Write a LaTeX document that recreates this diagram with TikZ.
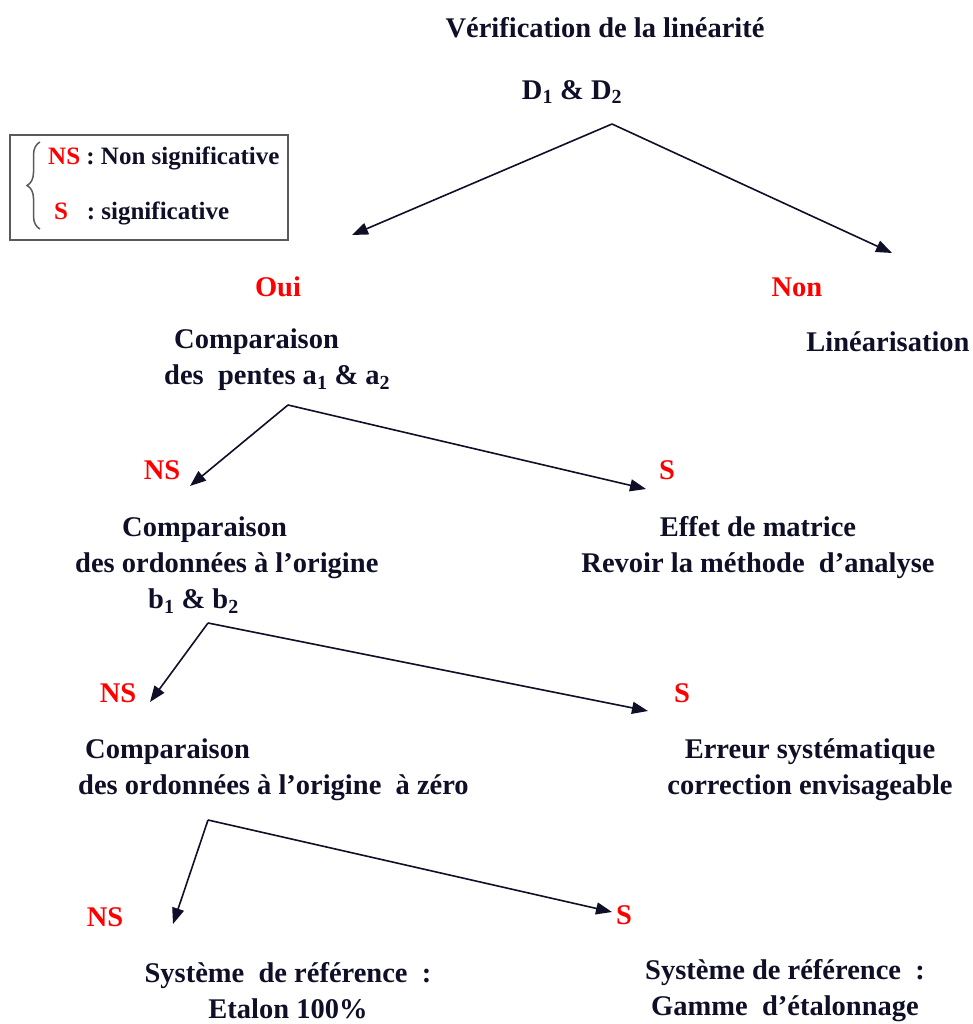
\documentclass[tikz,border=0pt]{standalone}
\usepackage{fontspec}
\setmainfont{Liberation Serif}
\usetikzlibrary{arrows.meta,decorations.pathreplacing}
\definecolor{ink}{RGB}{15,15,40}
\definecolor{hot}{RGB}{255,0,0}
\definecolor{frame}{RGB}{90,90,90}
\begin{document}
\begin{tikzpicture} [x=1pt, y=-1pt]
\tikzstyle{every node}=[inner sep=0pt, text=ink, font=\fontsize{28.5}{36}\selectfont\bfseries, align=center];
\tikzstyle{ans}=[text=hot];
\tikzstyle{key}=[anchor=west, font=\fontsize{25}{30}\selectfont\bfseries];
\tikzstyle{branch}=[-{Triangle[length=16pt,width=12pt]}, line width=1.6pt, ink];
\useasboundingbox (0,0) rectangle (972,1024);
% legend
\draw[frame, line width=2pt] (10,135) rectangle (288,240);
\draw[frame, line width=1.5pt, decorate, decoration={brace, amplitude=13pt}] (40,229) -- (40,142);
\node[key] (lns) at (48,158) {\textcolor{hot}{NS} : Non significative};
\node[key] (ls) at (54,213) {\textcolor{hot}{S}\ \ \ : significative};
% tree
\node (v0) at (605,28) {Vérification de la linéarité};
\node (v1) at (572,92) {D\textsubscript{1} \& D\textsubscript{2}};
\node[ans] (oui) at (278,287) {Oui};
\node[ans] (non) at (797,287) {Non};
\node[anchor=west, align=left] (v2) at (164,360) {\hspace{10pt}Comparaison\\des\ \ pentes a\textsubscript{1} \& a\textsubscript{2}};
\node (v3) at (888,342) {Linéarisation};
\node[ans] (ns1) at (162,470) {NS};
\node[ans] (s1) at (667,470) {S};
\node[anchor=west, align=left] (v4) at (75,565) {\hspace{47pt}Comparaison\\des ordonnées à l'origine\\\hspace{73pt}b\textsubscript{1} \& b\textsubscript{2}};
\node (v5) at (758,548) {Effet de matrice\\Revoir la méthode\ \ d'analyse};
\node[ans] (ns2) at (118,693) {NS};
\node[ans] (s2) at (682,693) {S};
\node[anchor=west, align=left] (v6) at (78,770) {\hspace{7pt}Comparaison\\des ordonnées à l'origine\ \ à zéro};
\node (v7) at (810,770) {Erreur systématique\\correction envisageable};
\node[ans] (ns3) at (105,917) {NS};
\node[ans] (s3) at (624,915) {S};
\node (v8) at (288,991) {Système\ \ de référence\ \ :\\Etalon 100\%};
\node (v9) at (785,991) {Système de référence\ \ :\\Gamme\ \ d'étalonnage};
% arrows
\coordinate (a1) at (612,124);
\coordinate (t1l) at (352,235);
\coordinate (t1r) at (892,253);
\coordinate (a2) at (288,405);
\coordinate (t2l) at (190,486);
\coordinate (t2r) at (646,489);
\coordinate (a3) at (208,623);
\coordinate (t3l) at (150,702);
\coordinate (t3r) at (648,711);
\coordinate (a4) at (208,820);
\coordinate (t4l) at (173,924);
\coordinate (t4r) at (612,912);
\draw[branch] (a1) -- (t1l);
\draw[branch] (a1) -- (t1r);
\draw[branch] (a2) -- (t2l);
\draw[branch] (a2) -- (t2r);
\draw[branch] (a3) -- (t3l);
\draw[branch] (a3) -- (t3r);
\draw[branch] (a4) -- (t4l);
\draw[branch] (a4) -- (t4r);
\end{tikzpicture}
\end{document}
